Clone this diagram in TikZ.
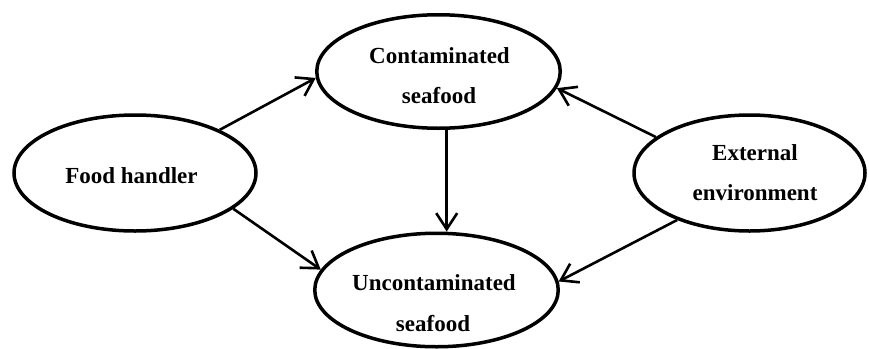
\documentclass[tikz,border=0pt]{standalone}
\usepackage{fontspec}
\setmainfont{Liberation Serif}
\usetikzlibrary{arrows.meta,shapes.geometric}
\tikzset{
  oval/.style={draw=black, line width=3.5pt, ellipse, inner sep=0pt},
  lbl/.style={anchor=base, inner sep=0pt, font=\fontsize{23}{28}\selectfont\bfseries},
  conn/.style={draw=black, line width=2.6pt, -{Straight Barb[length=16pt,width=21pt]}}
}
\begin{document}
\begin{tikzpicture}[x=1pt,y=-1pt]
\useasboundingbox (0,0) rectangle (869,348);
\fill[white] (0,0) rectangle (869,348);
\node[oval, minimum width=243.5pt, minimum height=113.5pt] (cs) at (438.5,71.5) {};
\node[oval, minimum width=243.5pt, minimum height=113.5pt] (uc) at (436.5,290) {};
\node[oval, minimum width=242pt, minimum height=116pt] (fh) at (135,173) {};
\node[oval, minimum width=231pt, minimum height=116pt] (ee) at (749.5,173) {};
\node[lbl] (cs1) at (439.5,63) {Contaminated};
\node[lbl] (cs2) at (439,103) {seafood};
\node[lbl] (fh1) at (131.5,183) {Food handler};
\node[lbl] (ee1) at (755,160) {External};
\node[lbl] (ee2) at (755,200) {environment};
\node[lbl] (uc1) at (434,290) {Uncontaminated};
\node[lbl] (uc2) at (433,331) {seafood};
\draw[conn] (fh.27) -- (cs.183);
\draw[conn] (fh.-20) -- (uc.170);
\draw[conn] (ee.159) -- (cs.-8);
\draw[conn] (ee.213) -- (uc.4);
\draw[conn] (cs.-82) -- (cs.-82 |- uc.north);
\end{tikzpicture}
\end{document}
